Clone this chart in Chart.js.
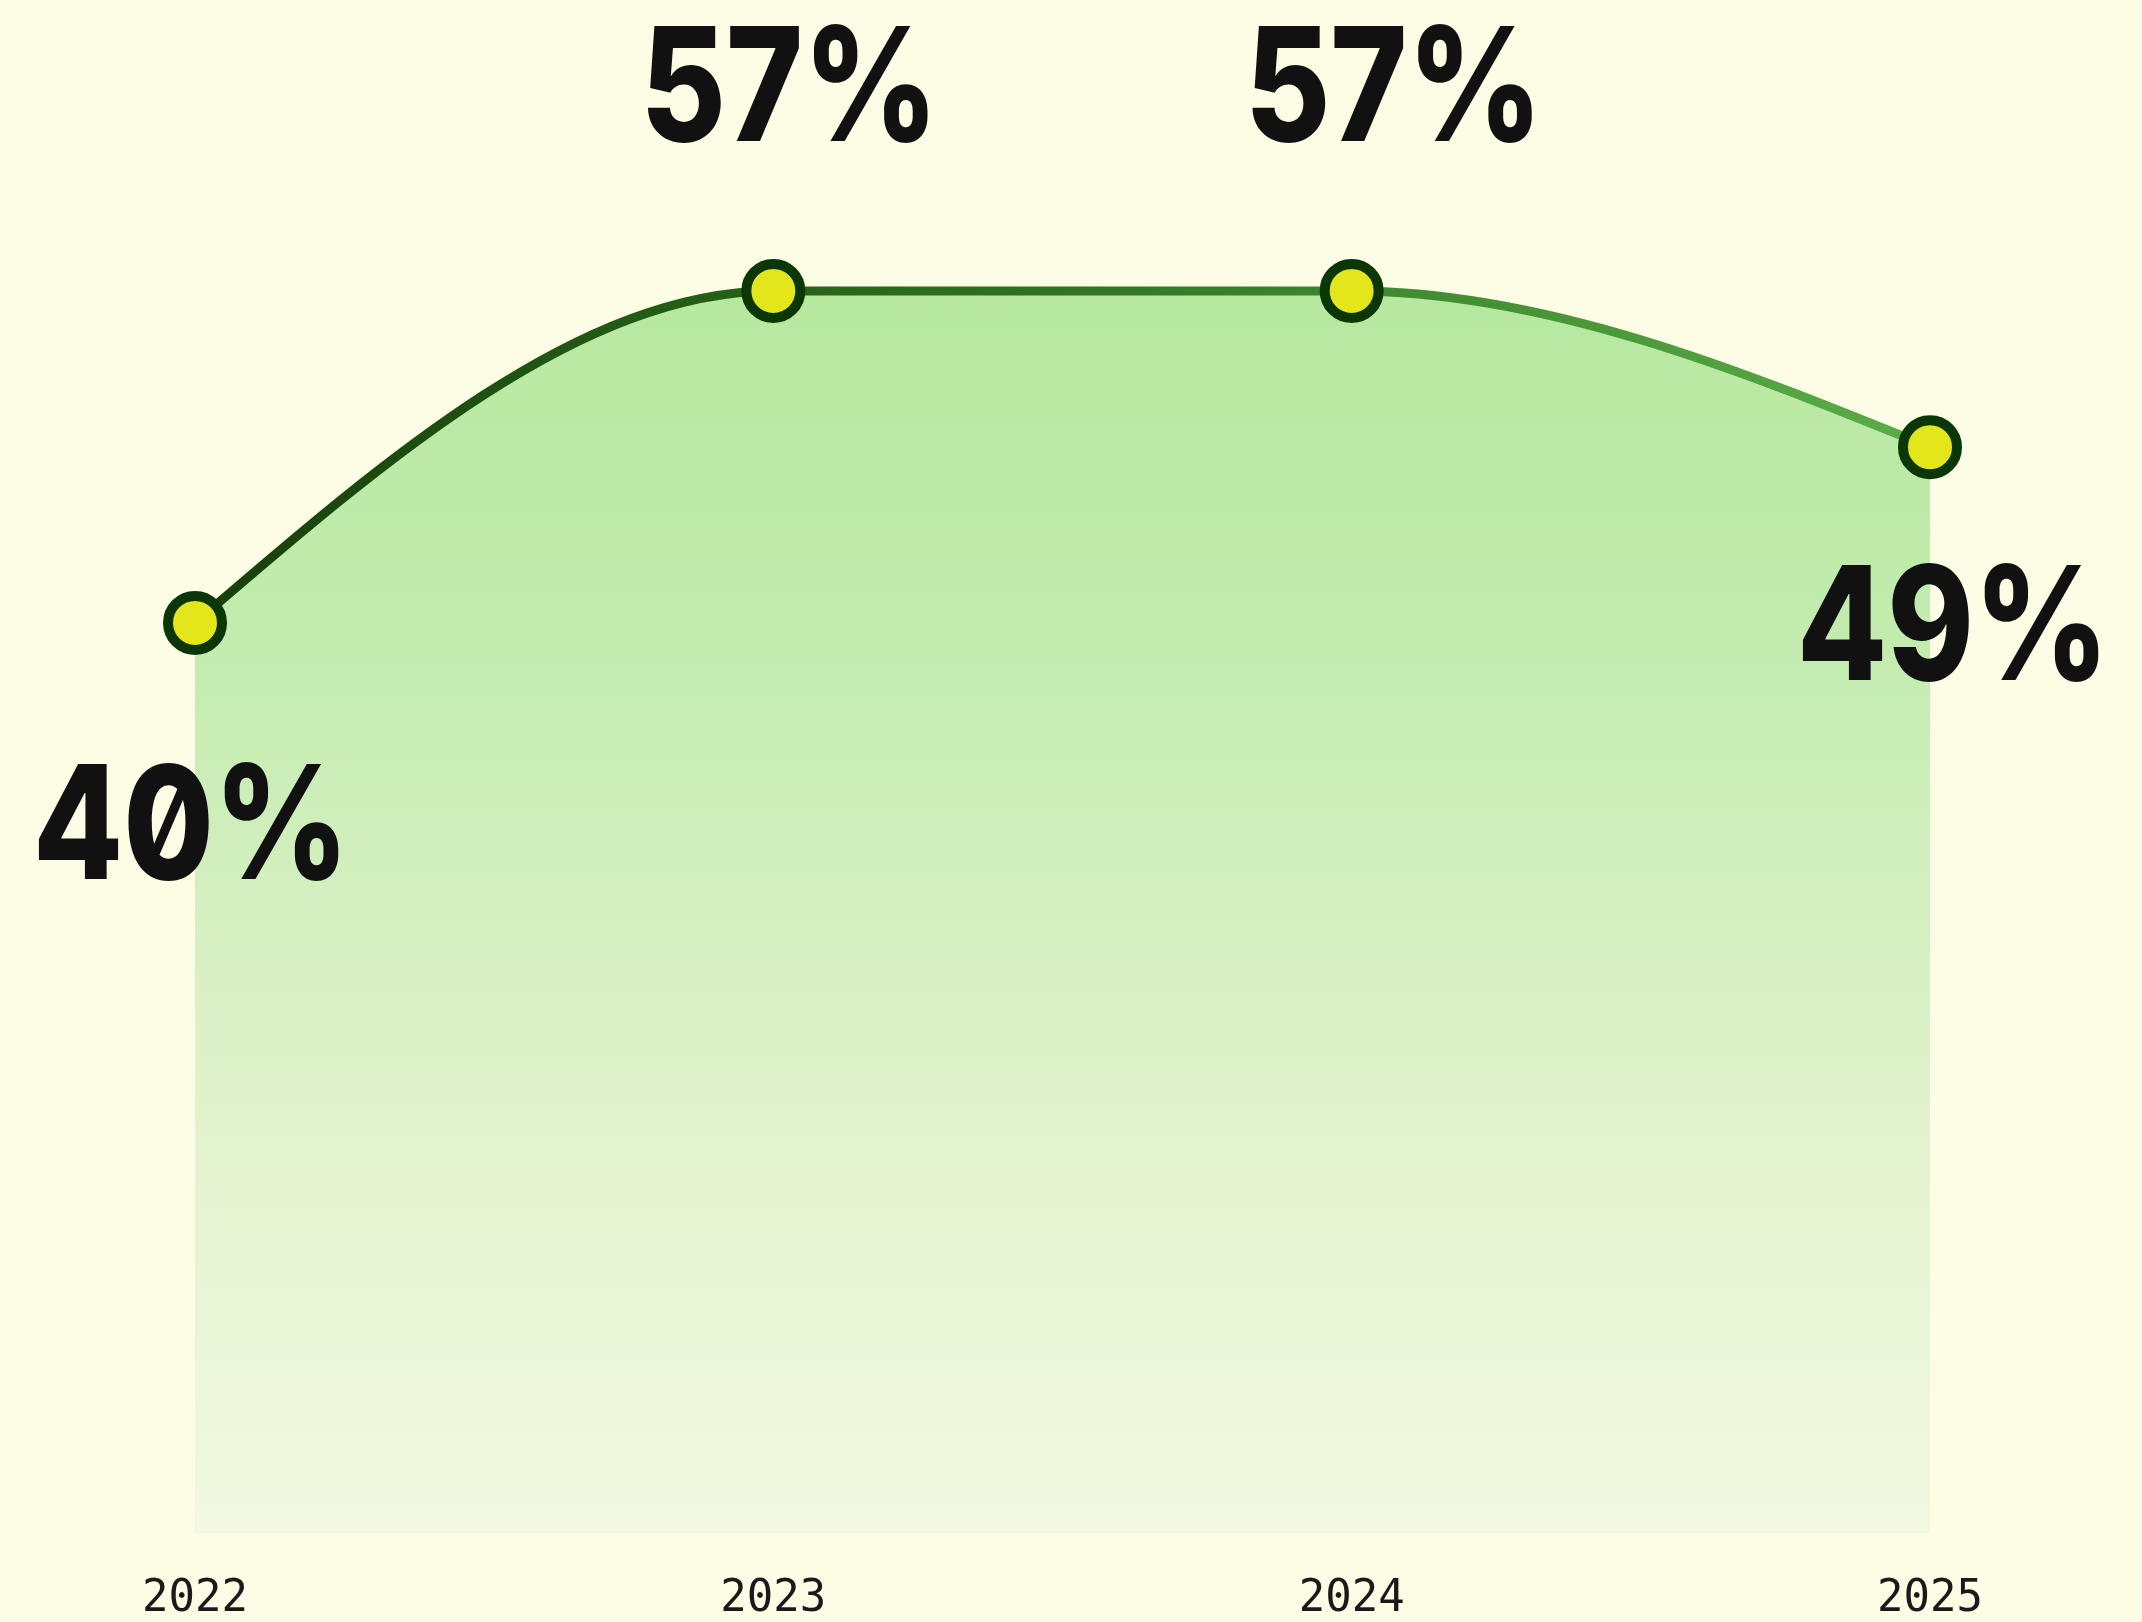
<!DOCTYPE html>
<html>
<head>
<meta charset="utf-8">
<script src="https://cdn.jsdelivr.net/npm/chart.js@4.4.1/dist/chart.umd.min.js"></script>
<style>
  html, body { margin: 0; padding: 0; background: #fdfde6; }
  #wrap { width: 2142px; height: 1622px; }
  #shareChart { font-feature-settings: "zero" 1; }
</style>
</head>
<body>
<div id="wrap"><canvas id="shareChart"></canvas></div>
<script>
const years = ['2022', '2023', '2024', '2025'];
const shares = [40, 57, 57, 49];

// keep monotone tangents inside, but give both ends a natural (zero-curvature) tangent
const naturalEnds = {
    id: 'naturalEnds',
    afterDatasetsUpdate(chart) {
        const meta = chart.getDatasetMeta(0);
        const line = meta.dataset;
        const pts = meta.data;
        if (!line || pts.length < 3) return;
        line.updateControlPoints(chart.chartArea, 'x');
        const a = pts[0], b = pts[1];
        let dx = b.x - a.x;
        const mb = (b.y - b.cp1y) / (b.x - b.cp1x || 1);
        const ma = 1.5 * (b.y - a.y) / dx - 0.5 * mb;
        a.cp2x = a.x + dx / 3;
        a.cp2y = a.y + ma * dx / 3;
        const z = pts[pts.length - 1], y = pts[pts.length - 2];
        dx = z.x - y.x;
        const my = (y.cp2y - y.y) / (y.cp2x - y.x || 1);
        const mz = 1.5 * (z.y - y.y) / dx - 0.5 * my;
        z.cp1x = z.x - dx / 3;
        z.cp1y = z.y - mz * dx / 3;
    }
};

// value labels: first and last sit under their point, the middle ones above
const labelShift = [-4, 16, 42, 23];
const valueLabels = {
    id: 'valueLabels',
    afterDatasetsDraw(chart) {
        const ctx = chart.ctx;
        const pts = chart.getDatasetMeta(0).data;
        pts.forEach((p, i) => {
            const last = i === pts.length - 1;
            const below = i === 0 || last;
            const dy = below ? (last ? 185 : 209) : -197;
            ctx.save();
            ctx.font = '800 158px Inter';
            ctx.fillStyle = '#111111';
            ctx.textAlign = 'center';
            ctx.textBaseline = 'middle';
            ctx.translate(p.x + labelShift[i], p.y + dy);
            ctx.scale(0.83, 1);
            ctx.fillText(shares[i] + '%', 0, 0);
            ctx.restore();
        });
    }
};

const ctx = document.getElementById('shareChart').getContext('2d');
const shareChart = new Chart(ctx, {
    type: 'line',
    data: {
        labels: years,
        datasets: [{
            data: shares,
            cubicInterpolationMode: 'monotone',
            borderWidth: 9,
            borderColor: (c) => {
                const a = c.chart.chartArea;
                if (!a) return '#2d6a1c';
                const g = c.chart.ctx.createLinearGradient(a.left, 0, a.right, 0);
                g.addColorStop(0, '#163f0a');
                g.addColorStop(0.5, '#2f7420');
                g.addColorStop(1, '#5cae48');
                return g;
            },
            fill: 'start',
            backgroundColor: (c) => {
                const a = c.chart.chartArea;
                if (!a) return '#c6eab0';
                const g = c.chart.ctx.createLinearGradient(0, a.top + 250, 0, a.bottom);
                g.addColorStop(0, '#b6e89f');
                g.addColorStop(0.3, '#c4ecb0');
                g.addColorStop(0.65, '#e0f2cc');
                g.addColorStop(1, '#f3f8e2');
                return g;
            },
            pointRadius: 27,
            pointHoverRadius: 27,
            pointBorderWidth: 10,
            pointBackgroundColor: '#e3e61b',
            pointBorderColor: '#0b3606'
        }]
    },
    options: {
        responsive: true,
        maintainAspectRatio: false,
        animation: false,
        layout: { padding: { top: 25, left: 195, right: 212, bottom: 0 } },
        plugins: {
            legend: { display: false },
            tooltip: { enabled: false }
        },
        scales: {
            x: {
                offset: false,
                grid: { display: false, drawTicks: false },
                border: { display: false },
                afterFit: (s) => { s.height = 89; },
                ticks: {
                    padding: 40,
                    color: '#1a1a1a',
                    font: { family: '"DejaVu Sans Mono"', size: 44, lineHeight: 1.2 }
                }
            },
            y: {
                display: false,
                min: -6.6,
                max: 70
            }
        }
    },
    plugins: [naturalEnds, valueLabels]
});
</script>
</body>
</html>
